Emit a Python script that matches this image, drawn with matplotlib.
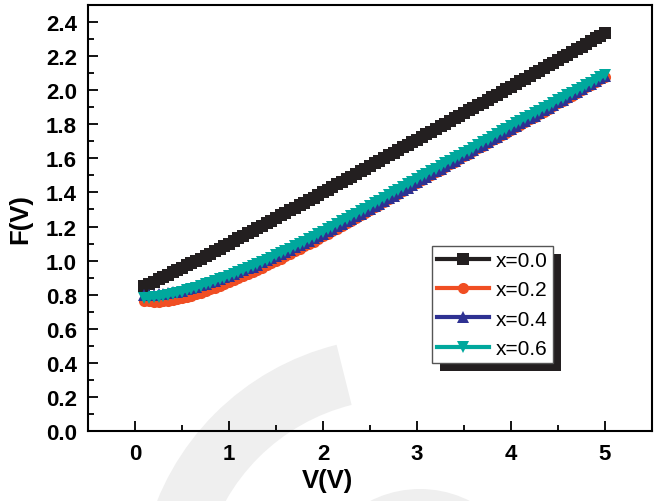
import numpy as np
import matplotlib
matplotlib.use('Agg')
import matplotlib.pyplot as plt
from matplotlib.patches import Wedge, Circle, Rectangle
from matplotlib.transforms import IdentityTransform
from matplotlib.ticker import MultipleLocator

plt.rcParams['font.family'] = ['Liberation Sans', 'DejaVu Sans']

# 数据, V = 0.10 ... 5.00, 步长 0.05
volt = np.round(np.arange(2, 101) * 0.05, 2)

f_x00 = [0.850, 0.864, 0.877, 0.891, 0.904, 0.918, 0.931, 0.945, 0.958, 0.972,
         0.985, 0.999, 1.012, 1.026, 1.040, 1.055, 1.070, 1.085, 1.100,
         1.115, 1.130, 1.145, 1.160, 1.175, 1.190, 1.205, 1.220, 1.235, 1.250,
         1.265, 1.280, 1.295, 1.310, 1.325, 1.340, 1.355, 1.370, 1.385, 1.400,
         1.416, 1.431, 1.447, 1.462, 1.478, 1.493, 1.509, 1.524, 1.540, 1.555,
         1.571, 1.586, 1.602, 1.617, 1.633, 1.648, 1.664, 1.679, 1.695, 1.710,
         1.726, 1.741, 1.757, 1.772, 1.788, 1.803, 1.819, 1.834, 1.850, 1.865,
         1.881, 1.896, 1.912, 1.927, 1.943, 1.958, 1.974, 1.989, 2.005, 2.020,
         2.036, 2.052, 2.067, 2.083, 2.099, 2.115, 2.130, 2.146, 2.162, 2.178,
         2.193, 2.209, 2.225, 2.241, 2.256, 2.272, 2.288, 2.304, 2.319, 2.335]

f_x02 = [0.765, 0.761, 0.758, 0.758, 0.760, 0.763, 0.768, 0.774, 0.780, 0.787,
         0.795, 0.803, 0.812, 0.821, 0.831, 0.841, 0.852, 0.863, 0.874,
         0.885, 0.897, 0.909, 0.921, 0.933, 0.946, 0.959, 0.972, 0.985, 0.999,
         1.012, 1.026, 1.040, 1.054, 1.068, 1.083, 1.097, 1.112, 1.127, 1.142,
         1.157, 1.172, 1.187, 1.203, 1.218, 1.234, 1.249, 1.265, 1.281, 1.297,
         1.313, 1.329, 1.345, 1.361, 1.377, 1.393, 1.409, 1.425, 1.441, 1.457,
         1.472, 1.488, 1.503, 1.519, 1.534, 1.550, 1.565, 1.581, 1.596, 1.612,
         1.627, 1.643, 1.658, 1.674, 1.689, 1.705, 1.720, 1.736, 1.751, 1.767,
         1.782, 1.798, 1.813, 1.829, 1.844, 1.860, 1.875, 1.891, 1.906, 1.922,
         1.937, 1.953, 1.968, 1.984, 2.000, 2.016, 2.032, 2.048, 2.064, 2.080]

f_x04 = [0.800, 0.800, 0.800, 0.802, 0.805, 0.809, 0.813, 0.818, 0.824, 0.831,
         0.838, 0.846, 0.854, 0.863, 0.872, 0.881, 0.891, 0.901, 0.911,
         0.921, 0.932, 0.943, 0.954, 0.965, 0.977, 0.989, 1.001, 1.013, 1.026,
         1.038, 1.051, 1.064, 1.077, 1.090, 1.104, 1.117, 1.131, 1.145, 1.159,
         1.173, 1.187, 1.201, 1.216, 1.230, 1.245, 1.260, 1.275, 1.290, 1.305,
         1.320, 1.335, 1.350, 1.366, 1.381, 1.397, 1.412, 1.428, 1.444, 1.460,
         1.476, 1.492, 1.508, 1.524, 1.540, 1.556, 1.571, 1.587, 1.602, 1.618,
         1.633, 1.649, 1.664, 1.680, 1.695, 1.711, 1.727, 1.743, 1.758, 1.774,
         1.789, 1.805, 1.820, 1.836, 1.851, 1.867, 1.882, 1.898, 1.914, 1.930,
         1.945, 1.961, 1.976, 1.992, 2.007, 2.023, 2.038, 2.054, 2.069, 2.085]

f_x06 = [0.780, 0.782, 0.785, 0.788, 0.792, 0.797, 0.803, 0.810, 0.818, 0.826,
         0.834, 0.842, 0.851, 0.860, 0.870, 0.880, 0.890, 0.900, 0.910,
         0.921, 0.932, 0.943, 0.955, 0.967, 0.979, 0.991, 1.004, 1.017, 1.030,
         1.043, 1.057, 1.070, 1.084, 1.098, 1.112, 1.126, 1.141, 1.155, 1.170,
         1.185, 1.200, 1.215, 1.230, 1.245, 1.260, 1.275, 1.290, 1.305, 1.320,
         1.336, 1.352, 1.368, 1.384, 1.400, 1.416, 1.432, 1.448, 1.464, 1.480,
         1.495, 1.510, 1.525, 1.540, 1.555, 1.570, 1.585, 1.600, 1.615, 1.630,
         1.646, 1.662, 1.678, 1.694, 1.710, 1.726, 1.742, 1.758, 1.774, 1.790,
         1.805, 1.820, 1.835, 1.850, 1.865, 1.880, 1.895, 1.910, 1.925, 1.940,
         1.955, 1.970, 1.985, 2.000, 2.015, 2.030, 2.045, 2.060, 2.075, 2.090]

labels = ['x=0.0', 'x=0.2', 'x=0.4', 'x=0.6']
colors = ['#231f20', '#f04e23', '#2e3192', '#00a89d']
markers = ['s', 'o', '^', 'v']

fig = plt.figure(figsize=(6.56, 5.02), dpi=100)
ax = fig.add_axes([88/656, 70/502, 564/656, 426/502])
ax.patch.set_alpha(0)

# 水印 (浅灰色弧形)
fig.patches.append(Wedge((400, -98), 262, 104, 166, width=62, transform=None,
                         facecolor='#efefef', edgecolor='none', zorder=-10))
fig.patches.append(Circle((420, -98), 110, transform=None,
                          facecolor='#efefef', edgecolor='none', zorder=-10))

for ys, lab, c, m in zip([f_x00, f_x02, f_x04, f_x06], labels, colors, markers):
    ax.plot(volt, ys, color=c, marker=m, markersize=8, linewidth=3,
            markeredgewidth=0, label=lab)

ax.set_xlim(-0.5, 5.5)
ax.set_ylim(0, 2.5)
ax.xaxis.set_major_locator(MultipleLocator(1))
ax.xaxis.set_minor_locator(MultipleLocator(0.5))
ax.yaxis.set_minor_locator(MultipleLocator(0.1))
yt = np.arange(0, 2.41, 0.2)
ax.set_yticks(yt)
ax.set_yticklabels(['{:.1f}'.format(v) for v in yt])

ax.tick_params(which='both', direction='in', top=False, right=False, width=1.3)
ax.tick_params(which='major', length=7, labelsize=16)
ax.tick_params(axis='x', which='major', pad=9)
ax.tick_params(axis='y', which='major', pad=8)
ax.tick_params(which='minor', length=4)
for lab in ax.get_xticklabels() + ax.get_yticklabels():
    lab.set_fontweight('bold')
for sp in ax.spines.values():
    sp.set_linewidth(1.5)

ax.set_xlabel('V(V)', fontsize=18.5, fontweight='bold')
ax.xaxis.set_label_coords(0.424, -0.088)
ax.set_ylabel('F(V)', fontsize=18.5, fontweight='bold')
ax.yaxis.set_label_coords(-0.099, 0.5)

leg = ax.legend(loc='upper left', bbox_to_anchor=(0.61, 0.435), borderaxespad=0,
                fontsize=15, handlelength=2.5, labelspacing=0.5, handletextpad=0.3,
                borderpad=0.25, fancybox=False, framealpha=1, edgecolor='#555555')
leg.get_frame().set_linewidth(1.0)
leg.set_zorder(5)

# 图例阴影
fig.canvas.draw()
bb = leg.get_window_extent()
shadow = Rectangle((bb.x0 + 8, bb.y0 - 8), bb.width, bb.height,
                   transform=IdentityTransform(), facecolor='#231f20',
                   edgecolor='none', zorder=4, clip_on=False)
ax.add_artist(shadow)

fig.savefig('out.png', dpi=100)
